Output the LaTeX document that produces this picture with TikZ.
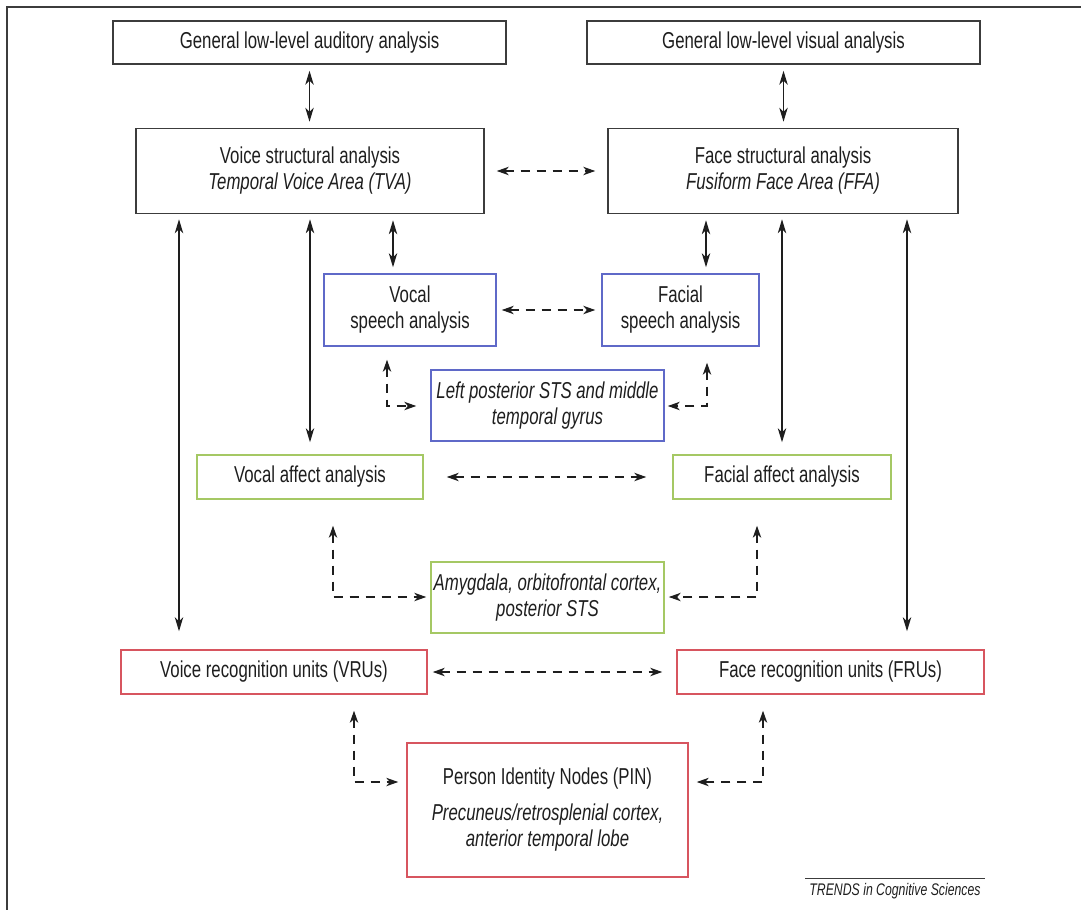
\documentclass[tikz,border=0pt]{standalone}
\usepackage{fontspec}
\setmainfont{Liberation Sans}[FakeStretch=0.73]
\usepackage{tikz}
\usetikzlibrary{arrows.meta}
\definecolor{myGray}{RGB}{60,60,60}
\definecolor{myBlue}{RGB}{95,105,200}
\definecolor{myGreen}{RGB}{165,200,100}
\definecolor{myRed}{RGB}{215,85,95}
\definecolor{myText}{RGB}{30,30,30}

\begin{document}
\begin{tikzpicture}[%
	x=0.5pt, y=-0.5pt,
	every node/.style={
		font=\fontsize{11.5}{13}\selectfont,
		text=myText,
		align=center,
		inner sep=1pt,
	},
	plainbox/.style={draw=myGray, line width=0.75pt},
	speechbox/.style={draw=myBlue, line width=0.75pt},
	affectbox/.style={draw=myGreen, line width=0.75pt},
	idbox/.style={draw=myRed, line width=0.75pt},
	solidarr/.style={{Stealth[length=7pt,width=4.2pt,inset=2pt]}-{Stealth[length=7pt,width=4.2pt,inset=2pt]}, line width=0.6pt, draw=myText},
	dasharr/.style={{Stealth[length=6pt,width=4.2pt,inset=1.8pt]}-{Stealth[length=6pt,width=4.2pt,inset=1.8pt]}, line width=0.6pt, draw=myText, dash pattern=on 4.5pt off 3.5pt},
	]
	\useasboundingbox (0,0) rectangle (1081,910);
	
	% frame
	\draw[line width=1pt, myGray] (1081,7) -- (7,7) -- (7,910);
	
	% top row
	\node[plainbox, minimum width=196.5pt, minimum height=21.5pt] (aud) at (309.5,42.5) {General low-level auditory analysis};
	\node[plainbox, minimum width=196.5pt, minimum height=21.5pt] (vis) at (783.5,42.5) {General low-level visual analysis};
	
	% structural analysis
	\node[plainbox, minimum width=174pt, minimum height=42.5pt] (voice) at (310,171) {Voice structural analysis\\ \textit{Temporal Voice Area (TVA)}};
	\node[plainbox, minimum width=175pt, minimum height=42.5pt] (face) at (783,171) {Face structural analysis\\ \textit{Fusiform Face Area (FFA)}};
	
	% speech
	\node[speechbox, minimum width=86pt, minimum height=36pt] (vspeech) at (410,310) {Vocal\\ speech analysis};
	\node[speechbox, minimum width=78.5pt, minimum height=36pt] (fspeech) at (680.5,310) {Facial\\ speech analysis};
	\node[speechbox, minimum width=116.5pt, minimum height=35.5pt] (lpsts) at (547.5,405.5) {\textit{Left posterior STS and middle}\\ \textit{temporal gyrus}};
	
	% affect
	\node[affectbox, minimum width=113pt, minimum height=22pt] (vaffect) at (310,477) {Vocal affect analysis};
	\node[affectbox, minimum width=109pt, minimum height=22pt] (faffect) at (782,477) {Facial affect analysis};
	\node[affectbox, minimum width=116.5pt, minimum height=35.5pt] (amyg) at (547.5,597.5) {\textit{Amygdala, orbitofrontal cortex,}\\ \textit{posterior STS}};
	
	% identity
	\node[idbox, minimum width=153pt, minimum height=22pt] (vru) at (274,672) {Voice recognition units (VRUs)};
	\node[idbox, minimum width=153.5pt, minimum height=22pt] (fru) at (830.5,672) {Face recognition units (FRUs)};
	\node[idbox, minimum width=140.5pt, minimum height=67pt] (pin) at (547.5,810) {Person Identity Nodes (PIN)\\[5pt] \textit{Precuneus/retrosplenial cortex,}\\ \textit{anterior temporal lobe}};
	
	% source
	\node[font=\fontsize{8.4}{10}\selectfont\itshape, inner sep=2pt] (trends) at (895,891) {TRENDS in Cognitive Sciences};
	\draw[line width=0.5pt, myGray] (trends.north west) -- (trends.north east);
	
	% helper coordinates for vertical lines and corners
	\coordinate (xvs) at (393,0);
	\coordinate (xfs) at (706,0);
	\coordinate (xvr) at (179,0);
	\coordinate (xfr) at (907,0);
	\coordinate (cvl) at (387,406);
	\coordinate (cfl) at (707,406);
	\coordinate (cva) at (333,597);
	\coordinate (cfa) at (757,597);
	\coordinate (cvp) at (354,782);
	\coordinate (cfp) at (763,782);
	
	% solid connectors
	\draw[solidarr, shorten <=3pt, shorten >=3pt] (aud.south) -- (voice.north -| aud.south);
	\draw[solidarr, shorten <=3pt, shorten >=3pt] (vis.south) -- (face.north -| vis.south);
	\draw[solidarr, shorten <=3pt, shorten >=3pt] (voice.south -| xvs) -- (vspeech.north -| xvs);
	\draw[solidarr, shorten <=3pt, shorten >=3pt] (face.south -| xfs) -- (fspeech.north -| xfs);
	\draw[solidarr, shorten <=2.5pt, shorten >=6pt] (voice.south -| vaffect.north) -- (vaffect.north);
	\draw[solidarr, shorten <=2.5pt, shorten >=6pt] (face.south -| faffect.north) -- (faffect.north);
	\draw[solidarr, shorten <=2.5pt, shorten >=9pt] (voice.south -| xvr) -- (vru.north -| xvr);
	\draw[solidarr, shorten <=2.5pt, shorten >=9pt] (face.south -| xfr) -- (fru.north -| xfr);
	
	% dashed connectors
	\draw[dasharr, shorten <=6pt, shorten >=6pt] (voice) -- (face);
	\draw[dasharr, shorten <=2.5pt, shorten >=3pt] (vspeech) -- (fspeech);
	\draw[dasharr, shorten <=11.5pt, shorten >=13pt] (vaffect) -- (faffect);
	\draw[dasharr, shorten <=2.5pt, shorten >=7pt] (vru) -- (fru);
	
	% dashed elbows
	\draw[dasharr, shorten <=6.5pt, shorten >=7pt] (vspeech.south -| cvl) |- (lpsts.west |- cvl);
	\draw[dasharr, shorten <=8pt, shorten >=1.5pt] (fspeech.south -| cfl) |- (lpsts.east |- cfl);
	\draw[dasharr, shorten <=13pt, shorten >=2pt] (vaffect.south -| cva) |- (amyg.west |- cva);
	\draw[dasharr, shorten <=13pt, shorten >=2pt] (faffect.south -| cfa) |- (amyg.east |- cfa);
	\draw[dasharr, shorten <=8pt, shorten >=4pt] (vru.south -| cvp) |- (pin.west |- cvp);
	\draw[dasharr, shorten <=8pt, shorten >=4pt] (fru.south -| cfp) |- (pin.east |- cfp);
\end{tikzpicture}
\end{document}
